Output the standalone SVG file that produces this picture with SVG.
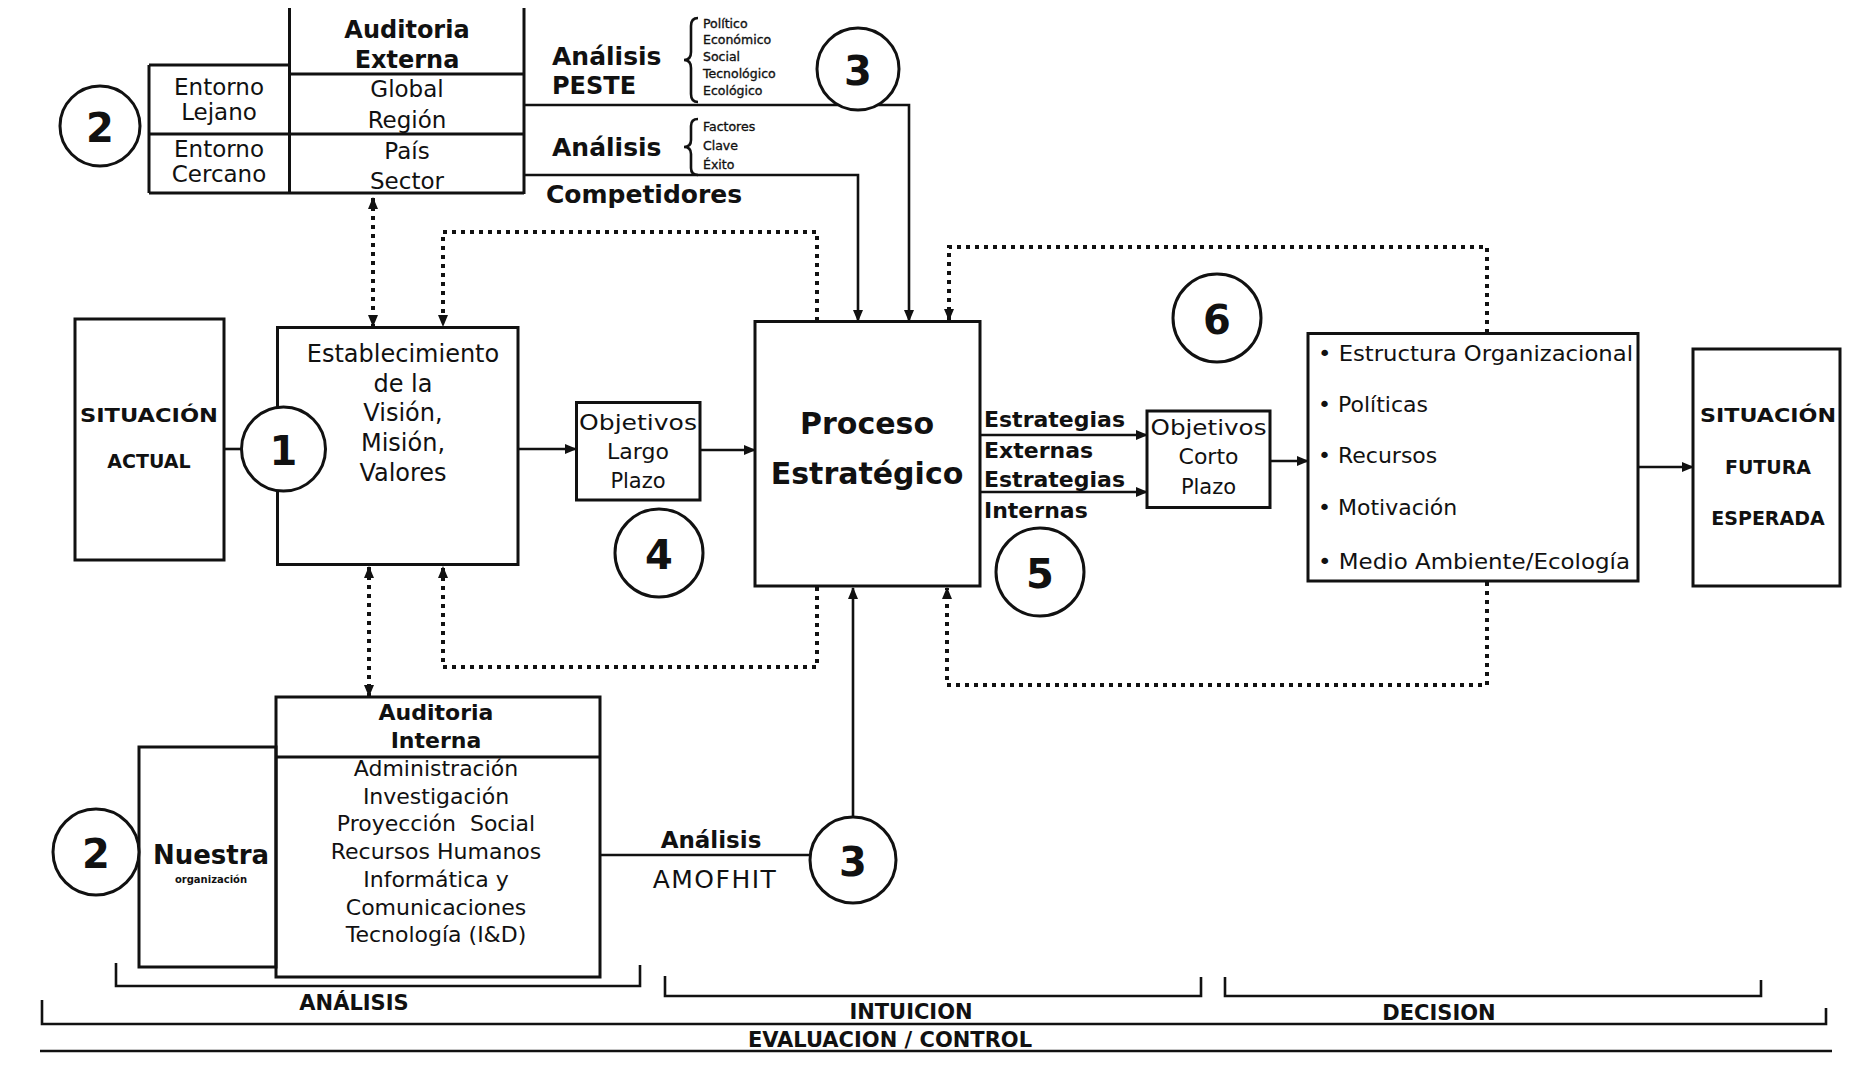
<svg xmlns="http://www.w3.org/2000/svg" width="1868" height="1068" viewBox="0 0 1868 1068">
<style>
.bx{fill:none;stroke:#111;stroke-width:3}
.ln{fill:none;stroke:#111;stroke-width:2.6}
.dt{fill:none;stroke:#111;stroke-width:4;stroke-dasharray:4 5}
.ci{fill:#fff;stroke:#111;stroke-width:3}
.t{font-family:"DejaVu Sans","Liberation Sans",sans-serif;fill:#111;text-anchor:middle;dominant-baseline:central}
.l{text-anchor:start}
.b{font-weight:bold}
.sm{font-size:12.5px;stroke:#111;stroke-width:0.35}
.num{font-family:"DejaVu Sans","Liberation Sans",sans-serif;font-weight:bold;fill:#111;text-anchor:middle;dominant-baseline:central;font-size:40px}
</style>
<defs>
<marker id="ah" markerUnits="userSpaceOnUse" markerWidth="12" markerHeight="10" refX="11" refY="5" orient="auto-start-reverse">
<path d="M0,0 L12,5 L0,10 z" fill="#111"/>
</marker>
</defs>
<rect width="1868" height="1068" fill="#fff"/>

<g id="connectors">
<path class="ln" d="M224,449 H241.5"/>
<path class="ln" d="M518,449 H576" marker-end="url(#ah)"/>
<path class="ln" d="M700,450 H755" marker-end="url(#ah)"/>
<path class="ln" d="M980,435 H1147" marker-end="url(#ah)"/>
<path class="ln" d="M980,492 H1147" marker-end="url(#ah)"/>
<path class="ln" d="M1270,461 H1308" marker-end="url(#ah)"/>
<path class="ln" d="M1638,467 H1693" marker-end="url(#ah)"/>
<path class="ln" d="M524,105 H909 V321" marker-end="url(#ah)"/>
<path class="ln" d="M524,175 H858 V321" marker-end="url(#ah)"/>
<path class="dt" d="M373,198 V326" marker-start="url(#ah)" marker-end="url(#ah)"/>
<path class="dt" d="M817,321 V232 H443 V326" marker-end="url(#ah)"/>
<path class="dt" d="M1487,333 V247 H949 V320" marker-end="url(#ah)"/>
<path class="dt" d="M369,567 V696" marker-start="url(#ah)" marker-end="url(#ah)"/>
<path class="dt" d="M817,587 V667 H443 V567" marker-end="url(#ah)"/>
<path class="ln" d="M853,817 V588" marker-end="url(#ah)"/>
<path class="dt" d="M1487,582 V685 H947 V588" marker-end="url(#ah)"/>
<path class="ln" d="M600,855 H810"/>
</g>

<g id="auditoria-externa">
<path class="bx" d="M289.5,8 V194 M524,8 V194 M149,65 H289.5 M289.5,74 H524 M149,134 H524 M149,193 H524 M149,65 V193"/>
<text class="t b" x="407" y="30" font-size="24">Auditoria</text>
<text class="t b" x="407" y="60" font-size="24">Externa</text>
<text class="t" x="407" y="89" font-size="23">Global</text>
<text class="t" x="407" y="120" font-size="23">Región</text>
<text class="t" x="407" y="151" font-size="23">País</text>
<text class="t" x="407" y="181" font-size="23">Sector</text>
<text class="t" x="219" y="87" font-size="23">Entorno</text>
<text class="t" x="219" y="112" font-size="23">Lejano</text>
<text class="t" x="219" y="149" font-size="23">Entorno</text>
<text class="t" x="219" y="174" font-size="23">Cercano</text>
</g>

<g id="circle-2-top">
<circle class="ci" cx="100" cy="126" r="40"/>
<text class="num" x="100" y="128" font-size="48">2</text>
</g>

<g id="analisis-peste">
<text class="t b l" x="552" y="56" font-size="25">Análisis</text>
<text class="t b l" x="552" y="86" font-size="24">PESTE</text>
<path class="ln" stroke-width="2" d="M698,18 q-7,0 -7,8 v26 q0,8 -7,8 q7,0 7,8 v26 q0,8 7,8"/>
<text class="t l sm" x="703" y="23">Político</text>
<text class="t l sm" x="703" y="39">Económico</text>
<text class="t l sm" x="703" y="56">Social</text>
<text class="t l sm" x="703" y="73">Tecnológico</text>
<text class="t l sm" x="703" y="90">Ecológico</text>
</g>

<g id="circle-3-top">
<circle class="ci" cx="858" cy="69" r="41"/>
<text class="num" x="858" y="71">3</text>
</g>

<g id="analisis-factores">
<text class="t b l" x="552" y="147" font-size="25">Análisis</text>
<path class="ln" stroke-width="2" d="M698,119 q-7,0 -7,7 v14 q0,7 -7,7 q7,0 7,7 v14 q0,7 7,7"/>
<text class="t l sm" x="703" y="126">Factores</text>
<text class="t l sm" x="703" y="145">Clave</text>
<text class="t l sm" x="703" y="164">Éxito</text>
<text class="t b l" x="546" y="194" font-size="25">Competidores</text>
</g>

<g id="situacion-actual">
<rect class="bx" x="75" y="319" width="149" height="241"/>
<text class="t b" x="149" y="415" font-size="19" textLength="138" lengthAdjust="spacingAndGlyphs">SITUACIÓN</text>
<text class="t b" x="149" y="461" font-size="19">ACTUAL</text>
</g>

<g id="establecimiento">
<rect class="bx" x="277.5" y="327.5" width="240.5" height="237"/>
<text class="t" x="403" y="354" font-size="24">Establecimiento</text>
<text class="t" x="403" y="384" font-size="24">de la</text>
<text class="t" x="403" y="413" font-size="24">Visión,</text>
<text class="t" x="403" y="443" font-size="24">Misión,</text>
<text class="t" x="403" y="473" font-size="24">Valores</text>
</g>

<g id="circle-1">
<circle class="ci" cx="283.5" cy="449" r="42"/>
<text class="num" x="283.5" y="451" font-size="38">1</text>
</g>

<g id="objetivos-largo">
<rect class="bx" x="576.5" y="402.5" width="123.5" height="97.5"/>
<text class="t" x="638" y="422" font-size="22" textLength="118" lengthAdjust="spacingAndGlyphs">Objetivos</text>
<text class="t" x="638" y="451" font-size="22">Largo</text>
<text class="t" x="638" y="481" font-size="21">Plazo</text>
</g>

<g id="circle-4">
<circle class="ci" cx="659" cy="553" r="44"/>
<text class="num" x="659" y="555">4</text>
</g>

<g id="proceso">
<rect class="bx" x="755" y="321.5" width="225" height="264.5"/>
<text class="t b" x="867" y="423" font-size="30">Proceso</text>
<text class="t b" x="867" y="473" font-size="30">Estratégico</text>
</g>

<g id="estrategias">
<text class="t b l" x="984" y="419" font-size="22">Estrategias</text>
<text class="t b l" x="984" y="450" font-size="22">Externas</text>
<text class="t b l" x="984" y="479" font-size="22">Estrategias</text>
<text class="t b l" x="984" y="510" font-size="22">Internas</text>
</g>

<g id="circle-5">
<circle class="ci" cx="1040" cy="572" r="44"/>
<text class="num" x="1040" y="574">5</text>
</g>

<g id="objetivos-corto">
<rect class="bx" x="1147" y="411" width="123" height="96.5"/>
<text class="t" x="1208.5" y="427" font-size="22" textLength="116" lengthAdjust="spacingAndGlyphs">Objetivos</text>
<text class="t" x="1208.5" y="456" font-size="22">Corto</text>
<text class="t" x="1208.5" y="487" font-size="21">Plazo</text>
</g>

<g id="circle-6">
<circle class="ci" cx="1217" cy="318" r="44"/>
<text class="num" x="1217" y="320">6</text>
</g>

<g id="implementacion">
<rect class="bx" x="1308" y="333.5" width="330" height="247.5"/>
<text class="t l" x="1318" y="353" font-size="22" textLength="315" lengthAdjust="spacingAndGlyphs">• Estructura Organizacional</text>
<text class="t l" x="1318" y="404" font-size="22">• Políticas</text>
<text class="t l" x="1318" y="455" font-size="22">• Recursos</text>
<text class="t l" x="1318" y="507" font-size="22">• Motivación</text>
<text class="t l" x="1318" y="561" font-size="22" textLength="312" lengthAdjust="spacingAndGlyphs">• Medio Ambiente/Ecología</text>
</g>

<g id="situacion-futura">
<rect class="bx" x="1693" y="349" width="147" height="237"/>
<text class="t b" x="1768" y="415" font-size="19" textLength="136" lengthAdjust="spacingAndGlyphs">SITUACIÓN</text>
<text class="t b" x="1768" y="467" font-size="19">FUTURA</text>
<text class="t b" x="1768" y="518" font-size="19">ESPERADA</text>
</g>

<g id="auditoria-interna">
<rect class="bx" x="139" y="747" width="137" height="220"/>
<rect class="bx" x="276" y="697" width="324" height="280"/>
<path class="bx" d="M276,757 H600"/>
<text class="t b" x="436" y="712" font-size="22">Auditoria</text>
<text class="t b" x="436" y="740" font-size="22">Interna</text>
<text class="t" x="436" y="768" font-size="22">Administración</text>
<text class="t" x="436" y="796" font-size="22">Investigación</text>
<text class="t" x="436" y="823" font-size="22" xml:space="preserve">Proyección  Social</text>
<text class="t" x="436" y="851" font-size="22">Recursos Humanos</text>
<text class="t" x="436" y="879" font-size="22">Informática y</text>
<text class="t" x="436" y="907" font-size="22">Comunicaciones</text>
<text class="t" x="436" y="934" font-size="22">Tecnología (I&amp;D)</text>
<text class="t b" x="211" y="855" font-size="26">Nuestra</text>
<text class="t b" x="211" y="879" font-size="10">organización</text>
</g>

<g id="circle-2-bottom">
<circle class="ci" cx="96" cy="852" r="43"/>
<text class="num" x="96" y="854" font-size="42">2</text>
</g>

<g id="analisis-amofhit">
<text class="t b" x="711" y="840" font-size="23">Análisis</text>
<text class="t" x="715" y="879" font-size="25" letter-spacing="1.5">AMOFHIT</text>
</g>

<g id="circle-3-bottom">
<circle class="ci" cx="853" cy="860" r="43"/>
<text class="num" x="853" y="862">3</text>
</g>

<g id="fases">
<path class="ln" stroke-width="3.2" d="M116,963 V986 H640 V965"/>
<text class="t b" x="354" y="1003" font-size="21">ANÁLISIS</text>
<path class="ln" stroke-width="3.2" d="M665,976 V996 H1201 V977"/>
<text class="t b" x="911" y="1012" font-size="21">INTUICION</text>
<path class="ln" stroke-width="3.2" d="M1225,977 V996 H1761 V980"/>
<text class="t b" x="1439" y="1013" font-size="21">DECISION</text>
<path class="ln" stroke-width="3.2" d="M42,1000 V1024 H1826 V1008"/>
<text class="t b" x="890" y="1040" font-size="21">EVALUACION / CONTROL</text>
<path class="ln" stroke-width="2" d="M40,1051 H1832"/>
</g>
</svg>
